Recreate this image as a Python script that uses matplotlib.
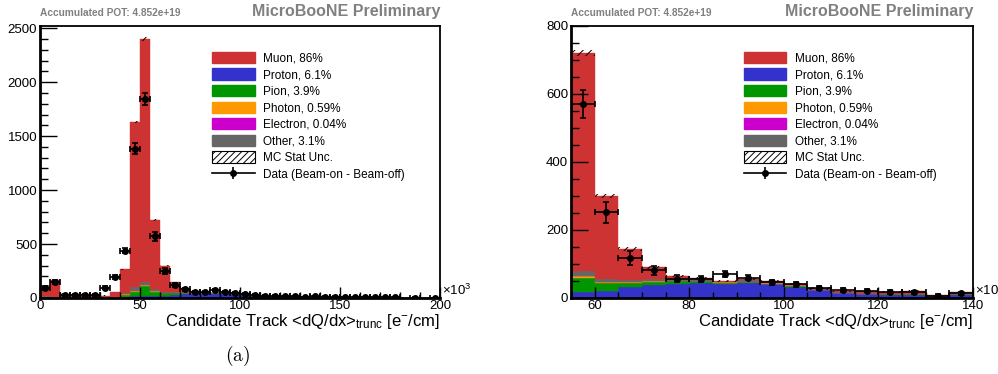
import numpy as np
import matplotlib.pyplot as plt
from matplotlib.patches import Patch
from matplotlib.lines import Line2D
from matplotlib.ticker import MultipleLocator

plt.rcParams['font.family'] = ['Liberation Sans', 'DejaVu Sans']
plt.rcParams['mathtext.fontset'] = 'custom'
plt.rcParams['mathtext.rm'] = 'Liberation Sans'
plt.rcParams['mathtext.it'] = 'Liberation Sans:italic'
plt.rcParams['hatch.linewidth'] = 0.7

# truncated mean dQ/dx, bins of 5 (x10^3 e-/cm) from 0 to 200
bin_edges = np.arange(0, 205, 5)

muon = [101, 152, 34, 26, 22, 21, 17, 45, 217, 1527,
        2253, 640, 244, 90, 34, 10, 6, 2, 2, 2,
        2, 2, 3, 6, 6, 8, 3, 6, 4, 4,
        3, 3, 2, 2, 1, 2, 1, 1, 1, 1]
proton = [8, 8, 5, 5, 5, 5, 4, 4, 9, 15,
          22, 17, 22, 32, 39, 42, 44, 41, 43, 40,
          33, 23, 15, 12, 10, 10, 5, 10, 8, 7,
          6, 5, 5, 4, 4, 3, 3, 3, 2, 2]
pion = [4, 3, 1, 1, 1, 1, 1, 4, 22, 37,
        92, 42, 22, 12, 7, 7, 5, 4, 3, 2,
        2, 1, 1, 1, 1, 1, 0, 1, 0, 0,
        0, 0, 0, 0, 0, 0, 0, 0, 0, 0]
photon = [0, 0, 0, 0, 0, 0, 0, 0, 2, 10,
          9, 7, 2, 3, 3, 2, 1, 1, 2, 3,
          2, 1, 0, 0, 0, 0, 0, 0, 0, 0,
          0, 0, 0, 0, 0, 0, 0, 0, 0, 0]
electron = [0, 0, 0, 0, 0, 0, 0, 0, 0, 1,
            2, 0, 0, 0, 0, 0, 0, 0, 0, 0,
            0, 0, 0, 0, 0, 0, 0, 0, 0, 0,
            0, 0, 0, 0, 0, 0, 0, 0, 0, 0]
other = [2, 2, 0, 0, 0, 0, 0, 2, 15, 40,
         22, 14, 10, 7, 7, 5, 3, 2, 5, 3,
         2, 1, 1, 1, 1, 2, 0, 0, 0, 0,
         0, 0, 0, 0, 0, 0, 0, 0, 0, 0]
mc_stat = [6, 8, 3, 3, 3, 3, 3, 4, 8, 12,
           15, 8, 6, 5, 4, 3, 3, 3, 3, 3,
           3, 3, 2, 2, 2, 2, 2, 2, 2, 2,
           2, 2, 2, 2, 1, 1, 1, 1, 1, 1]

# beam-on minus beam-off
data = [93, 145, 31, 30, 25, 30, 96, 195, 440, 1383,
        1843, 570, 252, 118, 81, 57, 56, 70, 60, 46,
        40, 30, 23, 22, 18, 17, 7, 14, 12, 10,
        9, 8, 7, 6, 5, 5, np.nan, 3, np.nan, 2]
data_err = [15, 18, 10, 10, 10, 10, 14, 20, 26, 50,
            55, 42, 30, 20, 12, 10, 9, 9, 8, 8,
            7, 6, 6, 5, 5, 5, 4, 4, 4, 4,
            3, 3, 3, 3, 3, 3, 3, 3, 2, 2]

labels = ['Muon, 86%', 'Proton, 6.1%', 'Pion, 3.9%', 'Photon, 0.59%',
          'Electron, 0.04%', 'Other, 3.1%']
colors = {'Muon, 86%': '#cd3333', 'Proton, 6.1%': '#3333cc',
          'Pion, 3.9%': '#009600', 'Photon, 0.59%': '#ff9900',
          'Electron, 0.04%': '#cc00cc', 'Other, 3.1%': '#666666'}
# drawing order, bottom of the stack first
stack = [('Proton, 6.1%', proton), ('Pion, 3.9%', pion),
         ('Photon, 0.59%', photon), ('Electron, 0.04%', electron),
         ('Other, 3.1%', other), ('Muon, 86%', muon)]

grey = '#808080'


def draw_panel(ax, xlim, ylim, xmaj, xmin, ymaj, ymin):
    lo = bin_edges[:-1]
    width = np.diff(bin_edges)
    centers = lo + width / 2
    bottom = np.zeros(len(lo))
    for name, vals in stack:
        vals = np.asarray(vals, float)
        ax.bar(lo, vals, width=width, bottom=bottom, align='edge',
               color=colors[name], edgecolor=colors[name], linewidth=0.3)
        bottom += vals
    unc = np.asarray(mc_stat, float)
    ax.bar(lo, 2 * unc, width=width, bottom=bottom - unc, align='edge',
           fill=False, hatch='////', edgecolor='black', linewidth=0)
    ax.errorbar(centers, data, xerr=width / 2, yerr=data_err, fmt='o',
                color='black', ms=4, elinewidth=1.2, capsize=2, capthick=1.2)

    ax.set_xlim(*xlim)
    ax.set_ylim(*ylim)
    ax.xaxis.set_major_locator(MultipleLocator(xmaj))
    ax.xaxis.set_minor_locator(MultipleLocator(xmin))
    ax.yaxis.set_major_locator(MultipleLocator(ymaj))
    ax.yaxis.set_minor_locator(MultipleLocator(ymin))
    ax.tick_params(axis='both', which='both', direction='in', top=False,
                   right=False, labelsize=9.5, width=1, color='black')
    ax.tick_params(axis='x', which='major', length=8, pad=1.5)
    ax.tick_params(axis='x', which='minor', length=4)
    ax.tick_params(axis='y', which='major', length=12, pad=2)
    ax.tick_params(axis='y', which='minor', length=6)
    for side in ('left', 'bottom'):
        ax.spines[side].set_linewidth(2)
    for side in ('top', 'right'):
        ax.spines[side].set_linewidth(1.3)

    ax.text(1.005, 0.0, r'$\times10^{3}$', transform=ax.transAxes,
            ha='left', va='bottom', fontsize=9.5)
    ax.text(1.0, -0.103,
            r'Candidate Track <dQ/dx>$_{\mathrm{trunc}}$ [e$^{-}$/cm]',
            transform=ax.transAxes, ha='right', va='baseline', fontsize=12)
    ax.text(0.0, 1.035, 'Accumulated POT: 4.852e+19', transform=ax.transAxes,
            ha='left', va='baseline', fontsize=7.3, fontweight='bold',
            color=grey)
    ax.text(1.0, 1.035, 'MicroBooNE Preliminary', transform=ax.transAxes,
            ha='right', va='baseline', fontsize=11.5, fontweight='bold',
            color=grey)

    handles = [Patch(facecolor=colors[n], edgecolor=colors[n]) for n in labels]
    handles.append(Patch(facecolor='white', edgecolor='black', hatch='/////',
                         linewidth=0.8))
    handles.append((Line2D([], [], color='black', lw=1.2, marker='o', ms=4),
                    Line2D([], [], color='black', lw=0, marker='|', ms=9,
                           markeredgewidth=1.2)))
    ax.legend(handles, labels + ['MC Stat Unc.', 'Data (Beam-on - Beam-off)'],
              loc='upper left', bbox_to_anchor=(0.43, 0.905), frameon=False,
              fontsize=8.5, handlelength=3.6, handleheight=1.1,
              handletextpad=0.7, labelspacing=0.33, borderpad=0,
              borderaxespad=0)


fig = plt.figure(figsize=(9.98, 3.74), dpi=100)
ax_full = fig.add_axes([40 / 998, 76 / 374, 400 / 998, 272 / 374])
ax_zoom = fig.add_axes([571 / 998, 76 / 374, 402 / 998, 272 / 374])

draw_panel(ax_full, (0, 200), (0, 2520), 50, 10, 500, 100)
draw_panel(ax_zoom, (55, 140), (0, 800), 20, 5, 200, 50)

fig.text(238 / 998, 1 - 356 / 374, r'$\mathrm{(a)}$', math_fontfamily='cm',
         ha='center', va='center', fontsize=14)

fig.savefig('out.png', dpi=100)
